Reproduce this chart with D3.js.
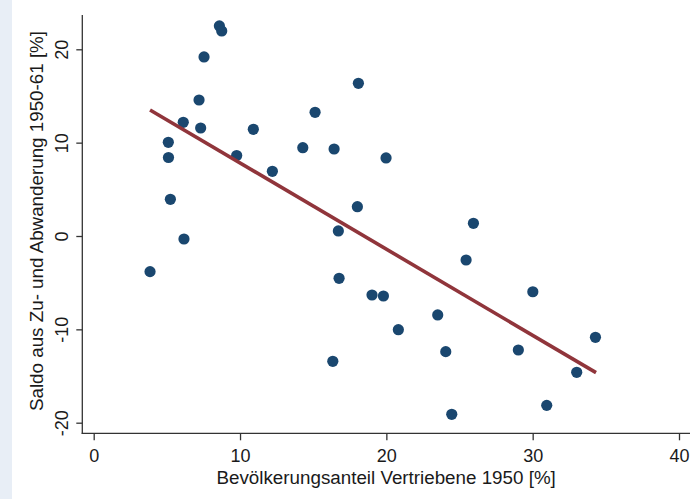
<!DOCTYPE html>
<html>
<head>
<meta charset="utf-8">
<script src="https://cdn.jsdelivr.net/npm/d3@7"></script>
<style>
  html, body { margin: 0; padding: 0; background: #ffffff; }
  svg { display: block; }
  text { font-family: "Liberation Sans", Arial, sans-serif; fill: #1a1a1a; }
</style>
</head>
<body>
<svg id="chart" width="700" height="499"></svg>
<script>
// Data
const vertriebene = [3.85, 5.10, 5.11, 5.24, 6.12, 6.17, 7.20, 7.31, 7.54, 8.59, 8.75, 9.77,
  10.91, 12.21, 14.29, 15.13, 16.43, 16.34, 16.72, 16.77, 18.09, 18.02, 19.02, 19.80,
  19.98, 20.82, 23.51, 24.06, 24.47, 25.45, 25.95, 29.02, 30.01, 30.96, 33.01, 34.29];
const saldo = [-3.82, 10.04, 8.41, 3.93, 12.18, -0.32, 14.57, 11.57, 19.18, 22.50, 21.96, 8.62,
  11.43, 6.93, 9.46, 13.25, 9.32, -13.42, 0.54, -4.53, 16.36, 3.14, -6.32, -6.43,
  8.36, -10.04, -8.46, -12.39, -19.10, -2.57, 1.36, -12.21, -5.97, -18.14, -14.60, -10.85];
const fitX = [3.85, 34.33];
const fitY = [13.5, -14.64];
const xTicks = [0, 10, 20, 30, 40];
const yTicks = [-20, -10, 0, 10, 20];
const yTickLabels = ["-20", "-10", "0", "10", "20"];
const xTitle = "Bevölkerungsanteil Vertriebene 1950 [%]";
const yTitle = "Saldo aus Zu- und Abwanderung 1950-61 [%]";

const svg = d3.select("#chart");

// left light strip
svg.append("rect").attr("x", 0).attr("y", 0).attr("width", 12).attr("height", 499)
  .attr("fill", "#e8eef6");

const x = d3.scaleLinear().domain([0, 40]).range([93.7, 679]);
const y = d3.scaleLinear().domain([-20, 20]).range([422.7, 49.3]);

const axisLeftX = 82.3, axisBottomY = 433.3, axisTopY = 15, axisRightX = 690;
const axisColor = "#333333";
const fontFam = "'Liberation Sans', Arial, sans-serif";

// axes lines
svg.append("line").attr("x1", axisLeftX).attr("x2", axisLeftX)
  .attr("y1", axisTopY).attr("y2", axisBottomY + 0.6)
  .attr("stroke", axisColor).attr("stroke-width", 1.3);
svg.append("line").attr("x1", axisLeftX - 0.6).attr("x2", axisRightX)
  .attr("y1", axisBottomY).attr("y2", axisBottomY)
  .attr("stroke", axisColor).attr("stroke-width", 1.3);

// x axis ticks
const gx = svg.append("g").attr("transform", `translate(0,${axisBottomY})`)
  .call(d3.axisBottom(x).tickValues(xTicks).tickSize(7).tickSizeOuter(0).tickPadding(9));
gx.select(".domain").remove();
gx.selectAll("line").attr("stroke", axisColor).attr("stroke-width", 1.3);
gx.selectAll("text").attr("font-size", 18).attr("fill", "#1a1a1a")
  .attr("dy", "0.68em")
  .style("font-family", fontFam);

// y axis ticks
const gy = svg.append("g").attr("transform", `translate(${axisLeftX},0)`)
  .call(d3.axisLeft(y).tickValues(yTicks).tickSize(6).tickSizeOuter(0)
    .tickFormat((d, i) => yTickLabels[i]));
gy.select(".domain").remove();
gy.selectAll("line").attr("stroke", axisColor).attr("stroke-width", 1.3);
gy.selectAll("text")
  .attr("x", null).attr("dy", null)
  .attr("font-size", 18).attr("fill", "#1a1a1a")
  .attr("text-anchor", "middle")
  .attr("transform", "translate(-14,0) rotate(-90)")
  .style("font-family", fontFam);

// titles
svg.append("text").attr("x", (axisLeftX + axisRightX) / 2).attr("y", 484)
  .attr("text-anchor", "middle").attr("font-size", 18.8).text(xTitle);
svg.append("text")
  .attr("transform", `translate(43,221) rotate(-90)`)
  .attr("text-anchor", "middle").attr("font-size", 18.8).text(yTitle);

// points
const pts = vertriebene.map((v, i) => ({ x: v, y: saldo[i] }));
svg.append("g").selectAll("circle").data(pts).join("circle")
  .attr("cx", d => x(d.x)).attr("cy", d => y(d.y)).attr("r", 5.6)
  .attr("fill", "#1a476f");

// fitted line
const fit = fitX.map((v, i) => [v, fitY[i]]);
svg.append("path").datum(fit)
  .attr("d", d3.line().x(d => x(d[0])).y(d => y(d[1])))
  .attr("fill", "none").attr("stroke", "#90353b").attr("stroke-width", 3.6);
</script>
</body>
</html>
